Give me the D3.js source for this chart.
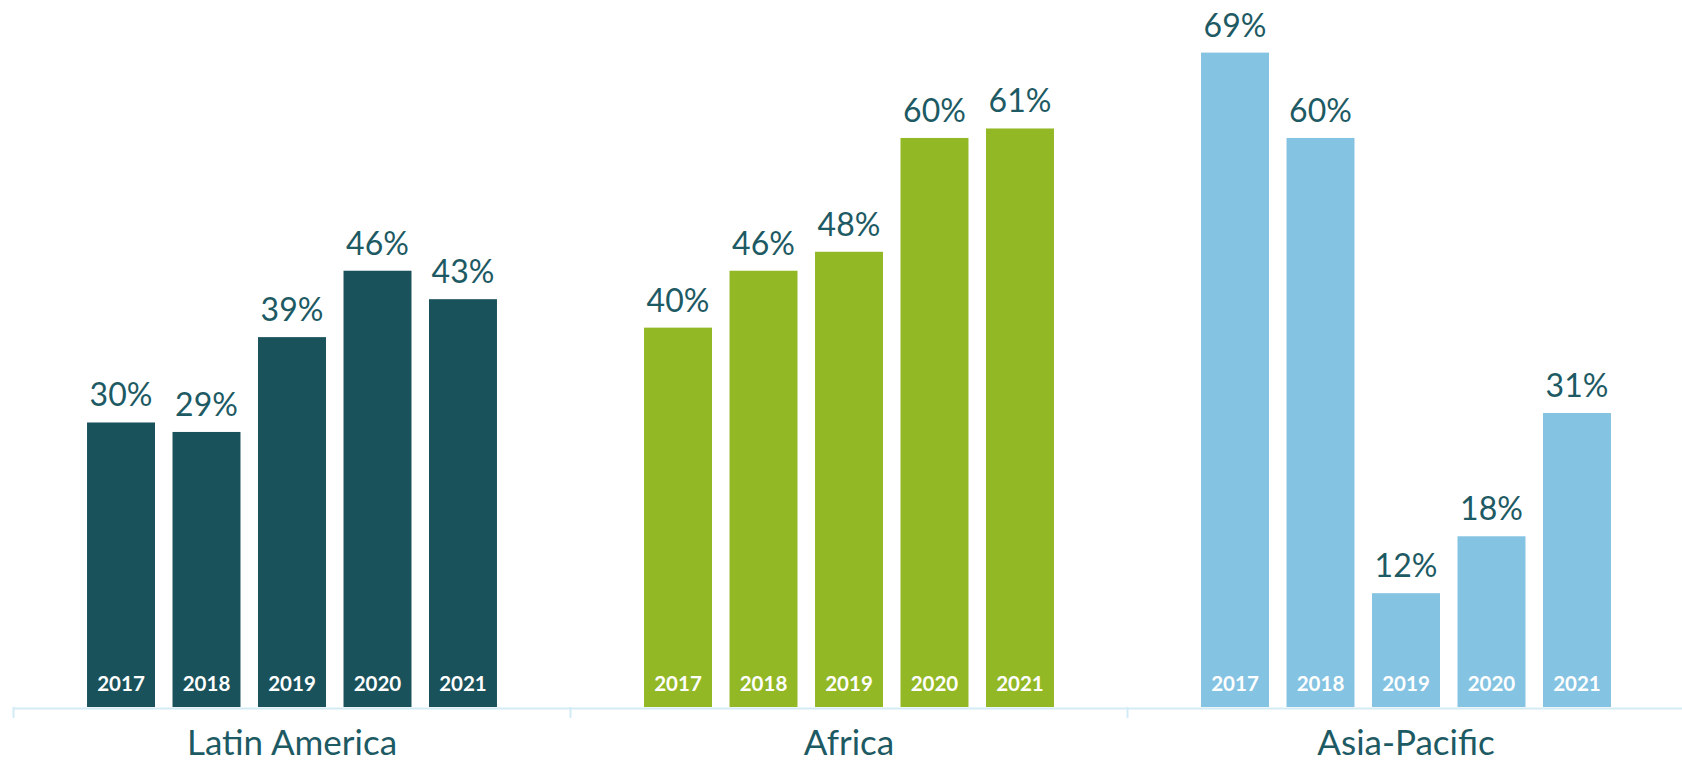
<!DOCTYPE html>
<html lang="en">
    <head>
        <meta charset="UTF-8">
        <title>Regional shares 2017-2021</title>
        <script src="https://d3js.org/d3.v7.min.js"></script>
        <style>
            body { margin: 0; padding: 0; background: #fff; overflow: hidden; }
            svg { display: block; }
            text { font-family: "Century Gothic", Lato, "Open Sans", sans-serif; }
        </style>
    </head>
    <body>
        <svg id="chart" width="1682" height="764"></svg>

        <script>
            const regions = ["Latin America", "Africa", "Asia-Pacific"];
            const years = ["2017", "2018", "2019", "2020", "2021"];
            const latinAmerica = [30, 29, 39, 46, 43];
            const africa = [40, 46, 48, 60, 61];
            const asiaPacific = [69, 60, 12, 18, 31];
            const colors = ["#1a525c", "#93b826", "#85c3e2"];

            const series = [latinAmerica, africa, asiaPacific];

            const svg = d3.select("#chart");
            const baseY = 707;

            // right end runs past the canvas edge, like the original
            const x0 = d3.scaleBand()
                .domain(regions)
                .range([13.5, 1684.5])
                .padding(0);

            const x1 = d3.scaleBand()
                .domain(years)
                .range([0, x0.bandwidth()])
                .paddingInner(0.205)
                .paddingOuter(0.86);

            const y = d3.scaleLinear()
                .domain([0, 69])
                .range([baseY, 52.6]);

            const groups = svg.selectAll("g.region")
                .data(regions)
                .enter().append("g")
                .attr("class", "region")
                .attr("transform", d => `translate(${x0(d)},0)`);

            groups.each(function(region, i) {
                const g = d3.select(this);
                const rows = years.map((yr, j) => ({year: yr, value: series[i][j]}));

                g.selectAll("rect")
                    .data(rows)
                    .enter().append("rect")
                    .attr("x", d => x1(d.year))
                    .attr("y", d => y(d.value))
                    .attr("width", x1.bandwidth())
                    .attr("height", d => baseY - y(d.value))
                    .attr("fill", colors[i]);

                // value labels above bars
                g.selectAll("text.value")
                    .data(rows)
                    .enter().append("text")
                    .attr("class", "value")
                    .attr("x", d => x1(d.year) + x1.bandwidth() / 2)
                    .attr("y", d => y(d.value) - 16)
                    .attr("text-anchor", "middle")
                    .attr("fill", "#1d5a63")
                    .style("font-size", "32px")
                    .text(d => d.value + "%");

                // year labels inside bars
                g.selectAll("text.year")
                    .data(rows)
                    .enter().append("text")
                    .attr("class", "year")
                    .attr("x", d => x1(d.year) + x1.bandwidth() / 2)
                    .attr("y", baseY - 16)
                    .attr("text-anchor", "middle")
                    .attr("fill", "#fff")
                    .style("font-size", "20.5px")
                    .style("font-weight", "bold")
                    .text(d => d.year);
            });

            // category axis
            const axis = svg.append("g");
            axis.append("line")
                .attr("x1", x0.range()[0])
                .attr("x2", x0.range()[1])
                .attr("y1", baseY + 1.5)
                .attr("y2", baseY + 1.5)
                .attr("stroke", "#d3ebf4")
                .attr("stroke-width", 2);

            const edges = regions.map(r => x0(r)).concat([x0.range()[1]]);
            axis.selectAll("line.tick")
                .data(edges)
                .enter().append("line")
                .attr("class", "tick")
                .attr("x1", d => d)
                .attr("x2", d => d)
                .attr("y1", baseY)
                .attr("y2", baseY + 11)
                .attr("stroke", "#d3ebf4")
                .attr("stroke-width", 2);

            axis.selectAll("text")
                .data(regions)
                .enter().append("text")
                .attr("x", d => x0(d) + x0.bandwidth() / 2)
                .attr("y", 755)
                .attr("text-anchor", "middle")
                .attr("fill", "#1d5a63")
                .style("font-size", "35px")
                .text(d => d);
        </script>
    </body>
</html>
